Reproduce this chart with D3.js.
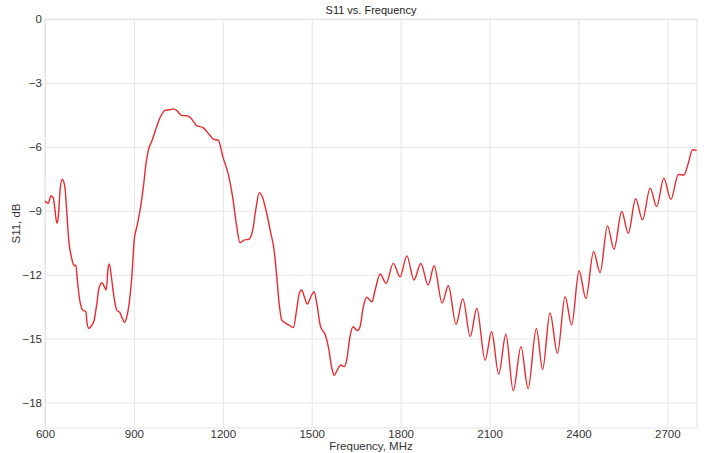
<!DOCTYPE html>
<html>
<head>
<meta charset="utf-8">
<script src="https://cdn.jsdelivr.net/npm/d3@7"></script>
<style>
  body { margin: 0; background: #fff; }
  text { font-family: "Liberation Sans", Arial, sans-serif; }
</style>
</head>
<body>
<script>
const WIDTH = 704
const HEIGHT = 453
const M = { top: 19, right: 7, bottom: 25, left: 45 }

// frequency in MHz, S11 in dB
const freq = [600, 611, 620, 628, 633, 640, 645, 651, 658, 667, 673, 680, 690, 699, 704, 709, 718, 727, 738, 742,
  748, 758, 766, 775, 782, 792, 803, 807, 812, 817, 824, 831, 842, 853, 861, 868, 876, 884, 893, 901,
  910, 921, 932, 941, 949, 960, 977, 990, 1005, 1020, 1033, 1044, 1061, 1078, 1092, 1112, 1132, 1157, 1168, 1185,
  1200, 1219, 1233, 1247, 1258, 1273, 1288, 1301, 1312, 1323, 1335, 1348, 1362, 1373, 1382, 1390, 1399, 1413, 1427, 1438,
  1449, 1458, 1466, 1475, 1485, 1497, 1508, 1517, 1530, 1545, 1556, 1568, 1576, 1586, 1598, 1609, 1618, 1629, 1640, 1654,
  1663, 1674, 1686, 1703, 1714, 1731, 1751, 1775, 1798, 1821, 1845, 1868, 1893, 1913, 1940, 1961, 1987, 2010, 2035, 2057,
  2085, 2107, 2131, 2155, 2180, 2206, 2230, 2258, 2279, 2304, 2329, 2355, 2377, 2402, 2425, 2451, 2473, 2498, 2520, 2546,
  2568, 2593, 2616, 2642, 2664, 2688, 2712, 2737, 2756, 2770, 2785, 2799]
const s11 = [-8.54, -8.65, -8.30, -8.41, -8.88, -9.59, -9.28, -8.02, -7.52, -7.87, -8.96, -10.37, -11.23, -11.58, -11.55, -12.25, -13.27, -13.66, -13.74, -14.29,
  -14.52, -14.37, -14.13, -13.35, -12.64, -12.38, -12.64, -12.72, -11.78, -11.50, -12.10, -12.88, -13.66, -13.79, -14.05, -14.24, -13.98, -13.35, -12.10, -10.37,
  -9.75, -8.96, -7.87, -6.77, -6.14, -5.75, -5.05, -4.58, -4.29, -4.26, -4.22, -4.29, -4.53, -4.54, -4.65, -5.01, -5.09, -5.47, -5.64, -5.70,
  -6.46, -7.32, -8.34, -9.75, -10.50, -10.37, -10.34, -9.90, -8.88, -8.15, -8.41, -9.12, -10.06, -10.84, -12.10, -13.35, -14.13, -14.29, -14.40, -14.49,
  -13.66, -12.88, -12.72, -13.04, -13.38, -13.04, -12.80, -13.35, -14.45, -14.80, -15.38, -16.40, -16.73, -16.48, -16.24, -16.32, -16.01, -14.91, -14.45, -14.63,
  -14.45, -13.51, -13.06, -13.28, -12.72, -11.97, -12.41, -11.47, -12.10, -11.12, -12.25, -11.48, -12.49, -11.58, -13.33, -12.52, -14.33, -13.14, -14.91, -13.58,
  -16.02, -14.68, -16.68, -14.80, -17.45, -15.38, -17.35, -14.53, -16.45, -13.80, -15.69, -13.04, -14.37, -11.82, -13.12, -10.92, -11.90, -9.71, -10.81, -9.04,
  -10.06, -8.44, -9.43, -7.94, -8.81, -7.47, -8.47, -7.30, -7.32, -6.80, -6.14, -6.17]

const xTicks = [600, 900, 1200, 1500, 1800, 2100, 2400, 2700]
const yTicks = [0, -3, -6, -9, -12, -15, -18]

const svg = d3.select("body").append("svg").attr("width", WIDTH).attr("height", HEIGHT)

const x = d3.scaleLinear().domain([600, 2800]).range([M.left, WIDTH - M.right])
const y = d3.scaleLinear().domain([-19.2, 0]).range([HEIGHT - M.bottom, M.top])

// grid + tick labels
svg.append("g")
  .attr("transform", `translate(0,${HEIGHT - M.bottom})`)
  .call(d3.axisBottom(x).tickValues(xTicks).tickFormat(d3.format("d"))
    .tickSize(-(HEIGHT - M.bottom - M.top)).tickPadding(2))
  .call(g => g.select(".domain").remove())
  .call(g => g.selectAll("line").attr("stroke", "#e6e6e6"))
  .call(g => g.selectAll("text").attr("font-size", 11.5).attr("fill", "#333"))

svg.append("g")
  .attr("transform", `translate(${M.left},0)`)
  .call(d3.axisLeft(y).tickValues(yTicks).tickSize(-(WIDTH - M.left - M.right)).tickPadding(3))
  .call(g => g.select(".domain").remove())
  .call(g => g.selectAll("line").attr("stroke", "#e6e6e6"))
  .call(g => g.selectAll("text").attr("font-size", 11.5).attr("fill", "#333"))

// frame
svg.append("rect")
  .attr("x", M.left).attr("y", M.top)
  .attr("width", WIDTH - M.left - M.right).attr("height", HEIGHT - M.top - M.bottom)
  .attr("fill", "none").attr("stroke", "#e3e3e3")

const pts = freq.map((f, i) => [f, s11[i]])
const line = d3.line().x(d => x(d[0])).y(d => y(d[1])).curve(d3.curveMonotoneX)

svg.append("path")
  .attr("d", line(pts))
  .attr("fill", "none")
  .attr("stroke", "#ea2a2e")
  .attr("stroke-width", 1.4)

// labels
svg.append("text")
  .attr("x", (M.left + WIDTH - M.right) / 2).attr("y", 14)
  .attr("text-anchor", "middle").attr("font-size", 11).attr("fill", "#222")
  .text("S11 vs. Frequency")

svg.append("text")
  .attr("x", (M.left + WIDTH - M.right) / 2).attr("y", 450)
  .attr("text-anchor", "middle").attr("font-size", 11.5).attr("fill", "#333")
  .text("Frequency, MHz")

svg.append("text")
  .attr("transform", `translate(20,${(M.top + HEIGHT - M.bottom) / 2}) rotate(-90)`)
  .attr("text-anchor", "middle").attr("font-size", 11.5).attr("fill", "#333")
  .text("S11, dB")
</script>
</body>
</html>
